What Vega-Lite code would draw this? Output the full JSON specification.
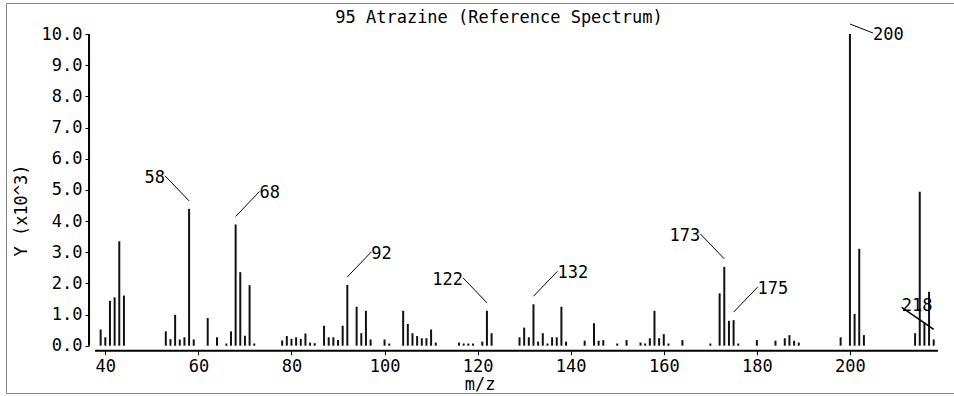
{
  "$schema": "https://vega.github.io/schema/vega-lite/v6.json",
  "autosize": {"type": "none"},
  "padding": {"left": 6, "top": 3, "right": 0, "bottom": 3},
  "width": 948,
  "height": 390,
  "background": "white",
  "config": {
    "view": {"stroke": "#888888", "strokeWidth": 1},
    "font": "DejaVu Sans Mono"
  },
  "title": {
    "text": "95 Atrazine (Reference Spectrum)",
    "font": "DejaVu Sans Mono",
    "fontSize": 17,
    "fontWeight": "normal",
    "color": "black",
    "anchor": "middle",
    "frame": "group",
    "offset": -24,
    "dx": 19
  },
  "datasets": {
    "peaks": [
      {"mz": 39, "intensity": 0.52}, {"mz": 40, "intensity": 0.27}, {"mz": 41, "intensity": 1.44},
      {"mz": 42, "intensity": 1.55}, {"mz": 43, "intensity": 3.35}, {"mz": 44, "intensity": 1.61},
      {"mz": 53, "intensity": 0.46}, {"mz": 54, "intensity": 0.21}, {"mz": 55, "intensity": 0.99},
      {"mz": 56, "intensity": 0.2}, {"mz": 57, "intensity": 0.27}, {"mz": 58, "intensity": 4.39},
      {"mz": 59, "intensity": 0.2}, {"mz": 62, "intensity": 0.89}, {"mz": 64, "intensity": 0.27},
      {"mz": 66, "intensity": 0.07}, {"mz": 67, "intensity": 0.46}, {"mz": 68, "intensity": 3.89},
      {"mz": 69, "intensity": 2.36}, {"mz": 70, "intensity": 0.32}, {"mz": 71, "intensity": 1.94},
      {"mz": 72, "intensity": 0.07}, {"mz": 78, "intensity": 0.17}, {"mz": 79, "intensity": 0.31},
      {"mz": 80, "intensity": 0.22}, {"mz": 81, "intensity": 0.27}, {"mz": 82, "intensity": 0.22},
      {"mz": 83, "intensity": 0.39}, {"mz": 84, "intensity": 0.1}, {"mz": 85, "intensity": 0.08},
      {"mz": 87, "intensity": 0.64}, {"mz": 88, "intensity": 0.27}, {"mz": 89, "intensity": 0.27},
      {"mz": 90, "intensity": 0.18}, {"mz": 91, "intensity": 0.64}, {"mz": 92, "intensity": 1.95},
      {"mz": 94, "intensity": 1.25}, {"mz": 95, "intensity": 0.4}, {"mz": 96, "intensity": 1.12},
      {"mz": 97, "intensity": 0.2}, {"mz": 100, "intensity": 0.2}, {"mz": 101, "intensity": 0.07},
      {"mz": 104, "intensity": 1.12}, {"mz": 105, "intensity": 0.7}, {"mz": 106, "intensity": 0.4},
      {"mz": 107, "intensity": 0.31}, {"mz": 108, "intensity": 0.24}, {"mz": 109, "intensity": 0.24},
      {"mz": 110, "intensity": 0.52}, {"mz": 111, "intensity": 0.1}, {"mz": 116, "intensity": 0.1},
      {"mz": 117, "intensity": 0.07}, {"mz": 118, "intensity": 0.07}, {"mz": 119, "intensity": 0.07},
      {"mz": 121, "intensity": 0.13}, {"mz": 122, "intensity": 1.12}, {"mz": 123, "intensity": 0.4},
      {"mz": 129, "intensity": 0.27}, {"mz": 130, "intensity": 0.58}, {"mz": 131, "intensity": 0.27},
      {"mz": 132, "intensity": 1.33}, {"mz": 133, "intensity": 0.13}, {"mz": 134, "intensity": 0.4},
      {"mz": 135, "intensity": 0.07}, {"mz": 136, "intensity": 0.27}, {"mz": 137, "intensity": 0.27},
      {"mz": 138, "intensity": 1.25}, {"mz": 139, "intensity": 0.13}, {"mz": 143, "intensity": 0.16},
      {"mz": 145, "intensity": 0.72}, {"mz": 146, "intensity": 0.16}, {"mz": 147, "intensity": 0.18},
      {"mz": 150, "intensity": 0.07}, {"mz": 152, "intensity": 0.18}, {"mz": 155, "intensity": 0.1},
      {"mz": 156, "intensity": 0.07}, {"mz": 157, "intensity": 0.24}, {"mz": 158, "intensity": 1.12},
      {"mz": 159, "intensity": 0.24}, {"mz": 160, "intensity": 0.37}, {"mz": 161, "intensity": 0.07},
      {"mz": 164, "intensity": 0.18}, {"mz": 170, "intensity": 0.07}, {"mz": 172, "intensity": 1.68},
      {"mz": 173, "intensity": 2.53}, {"mz": 174, "intensity": 0.8}, {"mz": 175, "intensity": 0.82},
      {"mz": 176, "intensity": 0.07}, {"mz": 180, "intensity": 0.18}, {"mz": 184, "intensity": 0.16},
      {"mz": 186, "intensity": 0.24}, {"mz": 187, "intensity": 0.34}, {"mz": 188, "intensity": 0.16},
      {"mz": 189, "intensity": 0.1}, {"mz": 198, "intensity": 0.27}, {"mz": 200, "intensity": 10.0},
      {"mz": 201, "intensity": 1.02}, {"mz": 202, "intensity": 3.11}, {"mz": 203, "intensity": 0.34},
      {"mz": 214, "intensity": 0.4}, {"mz": 215, "intensity": 4.94}, {"mz": 216, "intensity": 0.75},
      {"mz": 217, "intensity": 1.73}, {"mz": 218, "intensity": 0.2}
    ],
    "xAxisLine": [{"mz": 37.8, "mz_end": 218.9, "intensity": 0}],
    "yAxisLine": [{"mz": 36.5, "intensity": 0, "intensity_end": 10}]
  },
  "encoding": {
    "x": {
      "field": "mz", "type": "quantitative",
      "scale": {"domain": [18.66, 222.36], "nice": false, "zero": false},
      "axis": {
        "values": [40, 60, 80, 100, 120, 140, 160, 180, 200],
        "format": "d", "domain": false, "grid": false,
        "ticks": true, "tickSize": 4, "tickColor": "black", "tickWidth": 1,
        "offset": -42.3, "labelPadding": 4,
        "labelFont": "DejaVu Sans Mono", "labelFontSize": 17, "labelColor": "black",
        "labelFlush": false, "labelOverlap": false,
        "title": "m/z", "titleFont": "DejaVu Sans Mono", "titleFontSize": 17,
        "titleFontWeight": "normal", "titleColor": "black",
        "titleX": 473.7, "titleY": 34, "titleBaseline": "middle", "titleAlign": "center"
      }
    },
    "y": {
      "field": "intensity", "type": "quantitative",
      "scale": {"domain": [-1.5175, 10.9946], "nice": false, "zero": false},
      "axis": {
        "values": [0, 1, 2, 3, 4, 5, 6, 7, 8, 9, 10],
        "format": ".1f", "domain": false, "grid": false,
        "ticks": true, "tickSize": 4, "tickColor": "black", "tickWidth": 1,
        "offset": -83, "labelPadding": 3,
        "labelFont": "DejaVu Sans Mono", "labelFontSize": 17, "labelColor": "black",
        "labelFlush": false, "labelOverlap": false,
        "title": "Y (x10^3)", "titleFont": "DejaVu Sans Mono", "titleFontSize": 17,
        "titleFontWeight": "normal", "titleColor": "black",
        "titleAngle": -90, "titleX": -68, "titleY": 207,
        "titleBaseline": "middle", "titleAlign": "center"
      }
    }
  },
  "layer": [
    {
      "data": {"name": "peaks"},
      "mark": {"type": "rule", "strokeWidth": 2, "color": "#111111"},
      "encoding": {"y2": {"datum": 0}}
    },
    {
      "data": {"name": "xAxisLine"},
      "mark": {"type": "rule", "strokeWidth": 2, "color": "black", "yOffset": 5},
      "encoding": {"x2": {"field": "mz_end"}}
    },
    {
      "data": {"name": "yAxisLine"},
      "mark": {"type": "rule", "strokeWidth": 2, "color": "black"},
      "encoding": {"y2": {"field": "intensity_end"}}
    },
    {
      "data": {"name": "peaks"},
      "transform": [{"filter": {"field": "mz", "oneOf": [58, 122, 173]}}],
      "mark": {"type": "rule", "strokeWidth": 1, "color": "black", "yOffset": -8, "x2Offset": -24, "y2Offset": -33},
      "encoding": {"x2": {"field": "mz"}, "y2": {"field": "intensity"}}
    },
    {
      "data": {"name": "peaks"},
      "transform": [{"filter": {"field": "mz", "oneOf": [58, 122, 173]}}],
      "mark": {"type": "text", "align": "right", "baseline": "middle", "dx": -24, "dy": -31, "font": "DejaVu Sans Mono", "fontSize": 17, "color": "black"},
      "encoding": {"text": {"field": "mz", "type": "quantitative", "format": "d"}}
    },
    {
      "data": {"name": "peaks"},
      "transform": [{"filter": {"field": "mz", "oneOf": [68, 92, 132, 175]}}],
      "mark": {"type": "rule", "strokeWidth": 1, "color": "black", "yOffset": -8, "x2Offset": 24, "y2Offset": -33},
      "encoding": {"x2": {"field": "mz"}, "y2": {"field": "intensity"}}
    },
    {
      "data": {"name": "peaks"},
      "transform": [{"filter": {"field": "mz", "oneOf": [68, 92, 132, 175]}}],
      "mark": {"type": "text", "align": "left", "baseline": "middle", "dx": 24, "dy": -31, "font": "DejaVu Sans Mono", "fontSize": 17, "color": "black"},
      "encoding": {"text": {"field": "mz", "type": "quantitative", "format": "d"}}
    },
    {
      "data": {"name": "peaks"},
      "transform": [{"filter": {"field": "mz", "oneOf": [200]}}],
      "mark": {"type": "rule", "strokeWidth": 1, "color": "black", "yOffset": -10, "x2Offset": 23, "y2Offset": -1},
      "encoding": {"x2": {"field": "mz"}, "y2": {"field": "intensity"}}
    },
    {
      "data": {"name": "peaks"},
      "transform": [{"filter": {"field": "mz", "oneOf": [200]}}],
      "mark": {"type": "text", "align": "left", "baseline": "middle", "dx": 23, "dy": 1, "font": "DejaVu Sans Mono", "fontSize": 17, "color": "black"},
      "encoding": {"text": {"field": "mz", "type": "quantitative", "format": "d"}}
    },
    {
      "data": {"name": "peaks"},
      "transform": [{"filter": {"field": "mz", "oneOf": [218]}}],
      "mark": {"type": "rule", "strokeWidth": 1.5, "color": "black", "yOffset": -10, "x2Offset": -32, "y2Offset": -32},
      "encoding": {"x2": {"field": "mz"}, "y2": {"field": "intensity"}}
    },
    {
      "data": {"name": "peaks"},
      "transform": [{"filter": {"field": "mz", "oneOf": [218]}}],
      "mark": {"type": "text", "align": "left", "baseline": "middle", "dx": -32, "dy": -33, "font": "DejaVu Sans Mono", "fontSize": 17, "color": "black"},
      "encoding": {"text": {"field": "mz", "type": "quantitative", "format": "d"}}
    }
  ]
}
